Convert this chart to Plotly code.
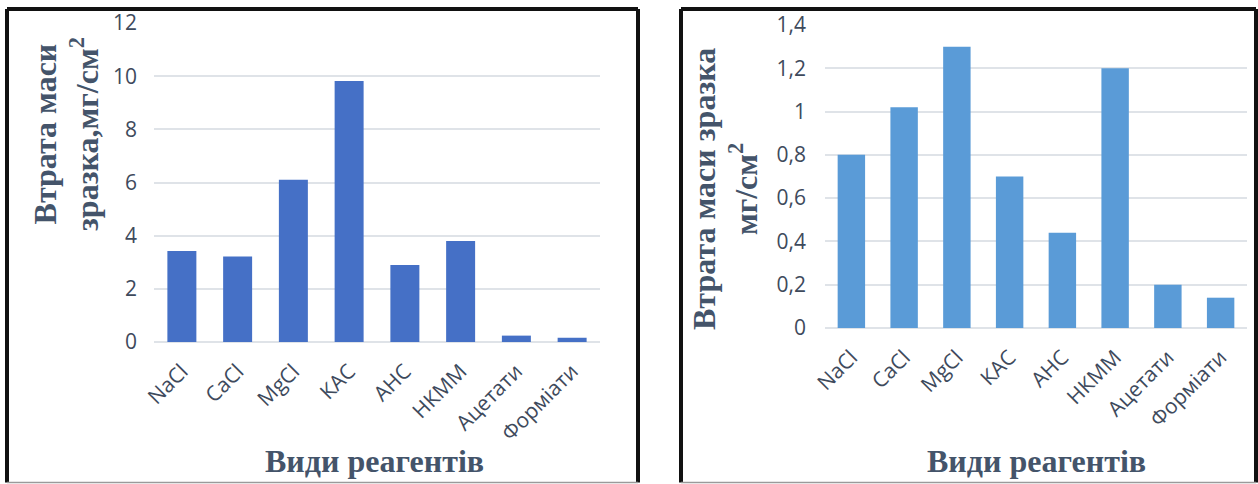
import plotly.graph_objects as go

# Reagent categories (shared by both panels)
reagents = ["NaCl", "CaCl", "MgCl", "КАС", "АНС", "НКММ", "Ацетати", "Форміати"]

# Mass loss values, mg/cm², for the two test series
loss_left = [3.42, 3.22, 6.1, 9.82, 2.9, 3.8, 0.24, 0.16]
loss_right = [0.80, 1.02, 1.30, 0.70, 0.44, 1.20, 0.20, 0.14]

W, H = 1258, 484
TICK_COLOR = "#3e4a5c"
TITLE_COLOR = "#44546a"
GRID_COLOR = "#dfe3e8"
tick_font = dict(family="Open Sans", size=21, color=TICK_COLOR)
title_font = dict(family="Liberation Serif", size=32, color=TITLE_COLOR)


def px_x(x):
    return x / W


def px_y(y):
    return 1 - y / H


fig = go.Figure()
fig.add_trace(go.Bar(x=reagents, y=loss_left, marker=dict(color="#4570c6", line=dict(width=0)),
                     xaxis="x", yaxis="y", showlegend=False))
fig.add_trace(go.Bar(x=reagents, y=loss_right, marker=dict(color="#5a9bd7", line=dict(width=0)),
                     xaxis="x2", yaxis="y2", showlegend=False))

xaxis_common = dict(tickangle=-45, tickfont=tick_font, showgrid=False, showline=False,
                    ticks="", ticklabelstandoff=12, zeroline=False, fixedrange=True,
                    automargin=False)
yaxis_common = dict(tickfont=tick_font, showgrid=True, gridcolor=GRID_COLOR, gridwidth=2,
                    zeroline=True, zerolinecolor=GRID_COLOR, zerolinewidth=2,
                    showline=False, ticks="", fixedrange=True, automargin=False)

fig.update_layout(
    width=W, height=H,
    autosize=False,
    margin=dict(l=0, r=0, t=0, b=0, pad=0, autoexpand=False),
    paper_bgcolor="white", plot_bgcolor="white",
    separators=", ",
    bargap=0.48,
    xaxis=dict(domain=[px_x(154), px_x(600)], anchor="y", **xaxis_common),
    yaxis=dict(domain=[px_y(342), px_y(23)], anchor="x", range=[0, 12], dtick=2,
               ticklabelstandoff=16, **yaxis_common),
    xaxis2=dict(domain=[px_x(825), px_x(1247)], anchor="y2", **xaxis_common),
    yaxis2=dict(domain=[px_y(328), px_y(25)], anchor="x2", range=[0, 1.4], dtick=0.2,
                ticklabelstandoff=18, **yaxis_common),
)

# Axis titles
annotations = [
    dict(text="<b>Види реагентів</b>", x=px_x(374), y=px_y(461), xref="paper", yref="paper",
         showarrow=False, font=title_font, xanchor="center", yanchor="middle"),
    dict(text="<b>Види реагентів</b>", x=px_x(1036), y=px_y(461), xref="paper", yref="paper",
         showarrow=False, font=title_font, xanchor="center", yanchor="middle"),
    dict(text="<b>Втрата маси<br>зразка,мг/см<sup>2</sup></b>", x=px_x(66), y=px_y(134),
         xref="paper", yref="paper", showarrow=False, font=title_font, textangle=-90,
         xanchor="center", yanchor="middle"),
    dict(text="<b>Втрата маси зразка<br>мг/см<sup>2</sup></b>", x=px_x(725), y=px_y(189),
         xref="paper", yref="paper", showarrow=False, font=title_font, textangle=-90,
         xanchor="center", yanchor="middle"),
]
fig.update_layout(annotations=annotations)

# Panel frames: thick dark top/left/right edges, thin grey bottom edge
shapes = []
for x0, x1 in [(7, 638), (681, 1256)]:
    top, bottom = 9, 482.5
    for xa, ya, xb, yb in [(x0, top, x1, top), (x0, top, x0, bottom), (x1, top, x1, bottom)]:
        shapes.append(dict(type="line", xref="paper", yref="paper",
                           x0=px_x(xa), y0=px_y(ya), x1=px_x(xb), y1=px_y(yb),
                           line=dict(color="#111111", width=4)))
    shapes.append(dict(type="line", xref="paper", yref="paper",
                       x0=px_x(x0), y0=px_y(bottom), x1=px_x(x1), y1=px_y(bottom),
                       line=dict(color="#9a9a9a", width=1.5)))
fig.update_layout(shapes=shapes)

fig.write_html("out.html", config={"displayModeBar": False})
